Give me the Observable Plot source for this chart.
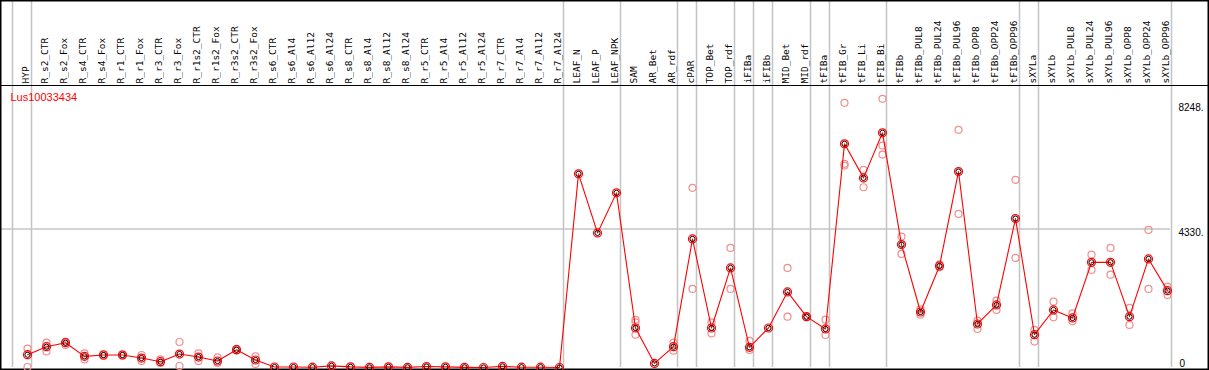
<!DOCTYPE html>
<html><head><meta charset="utf-8">
<script src="https://cdn.jsdelivr.net/npm/d3@7"></script>
<script src="https://cdn.jsdelivr.net/npm/@observablehq/plot@0.6"></script>
<style>body{margin:0;background:#fff} svg{display:block}</style>
</head><body><div id="chart"></div>
<script>
const categories = ["HYP","R_s2_CTR","R_s2_Fox","R_s4_CTR","R_s4_Fox","R_r1_CTR","R_r1_Fox","R_r3_CTR","R_r3_Fox","R_r1s2_CTR","R_r1s2_Fox","R_r3s2_CTR","R_r3s2_Fox","R_s6_CTR","R_s6_Al4","R_s6_Al12","R_s6_Al24","R_s8_CTR","R_s8_Al4","R_s8_Al12","R_s8_Al24","R_r5_CTR","R_r5_Al4","R_r5_Al12","R_r5_Al24","R_r7_CTR","R_r7_Al4","R_r7_Al12","R_r7_Al24","LEAF_N","LEAF_P","LEAF_NPK","SAM","AR_Bet","AR_rdf","cPAR","TOP_Bet","TOP_rdf","iFIBa","iFIBb","MID_Bet","MID_rdf","tFIBa","tFIB_Gr","tFIB_Li","tFIB_Bi","tFIBb","tFIBb_PUL8","tFIBb_PUL24","tFIBb_PUL96","tFIBb_OPP8","tFIBb_OPP24","tFIBb_OPP96","sXYLa","sXYLb","sXYLb_PUL8","sXYLb_PUL24","sXYLb_PUL96","sXYLb_OPP8","sXYLb_OPP24","sXYLb_OPP96"];
const means = [400,650,775,348,390,390,296,181,421,327,203,556,234,15,15,10,50,20,5,20,5,30,20,5,0,35,10,10,0,6051,4206,5457,1235,128,650,4018,1235,3111,630,1235,2361,1589,1204,6989,5925,7333,3840,1735,3174,6123,1360,1954,4653,1026,1798,1548,3286,3286,1589,3393,2402];
const rep1 = [590,775,800,441,420,410,390,253,797,441,315,580,350,null,null,null,null,null,null,null,null,null,null,null,null,null,null,null,null,null,null,null,1490,null,775,5613,1410,3737,830,null,3111,1600,1495,8271,6176,8396,4090,1817,3220,7426,1463,2089,5863,1173,2058,1692,3527,3737,1861,4300,2527];
const rep2 = [15,503,700,253,360,370,200,140,47,200,140,530,110,null,null,null,null,null,null,null,null,null,null,null,null,null,null,null,null,null,null,null,1410,null,525,2455,1066,2455,547,null,1589,1570,1016,6363,5632,6936,3549,1651,3130,4800,1204,1798,3424,816,1567,1442,3049,2902,1329,2455,2267];
const rep3 = [null,null,null,null,null,null,null,null,null,null,null,null,null,null,null,null,null,null,null,null,null,null,null,null,null,null,null,null,null,null,null,null,1026,null,null,null,null,null,null,null,null,null,null,6310,null,6654,null,null,null,null,null,null,null,null,null,null,null,null,null,null,null];
const groupEnds = [-1,0,28,31,34,35,37,38,39,41,42,45,52,53,60];
const gridValues = [4330];
const upperTickValues = [8248,4330];
const upperTickLabels = ["8248.","4330."];
const zeroTickLabel = "0";
const geneName = "Lus10033434";
const yMax = 8812;

const meanData = categories.map((c,i)=>({i, c, v: means[i]}));
const repData = [];
[rep1,rep2,rep3].forEach(r => r.forEach((v,i) => { if (v != null) repData.push({i, v}); }));
const tickData = upperTickValues.map((v,k)=>({v, label: upperTickLabels[k]}));

const chart = Plot.plot({
  width: 1209, height: 370,
  marginTop: 85, marginBottom: 3, marginLeft: 27, marginRight: 42,
  x: {type: "linear", domain: [0, 60], axis: null},
  y: {domain: [0, yMax], axis: null},
  style: {background: "white", fontFamily: "Liberation Sans, sans-serif"},
  marks: [
    Plot.ruleX(groupEnds, {x: d => d, dx: 4, insetTop: -85, stroke: "#c4c4c4", strokeWidth: 1.5}),
    Plot.ruleY(gridValues, {y: d => d, insetLeft: -26, insetRight: -3, stroke: "#c4c4c4", strokeWidth: 1.5}),
    Plot.ruleY([yMax], {y: d => d, insetLeft: -27, insetRight: -42, stroke: "black", strokeWidth: 1.2}),
    Plot.frame({stroke: "black", strokeWidth: 2, insetTop: -85, insetLeft: -27, insetRight: -41, insetBottom: -2}),
    Plot.text(meanData, {x: "i", text: "c", frameAnchor: "top", rotate: -90, textAnchor: "start", lineAnchor: "middle", dy: -2, dx: -1.5, fontFamily: "DejaVu Sans Mono", fontSize: 9.5, fill: "black"}),
    Plot.text([geneName], {frameAnchor: "top-left", dx: -17, dy: 12, textAnchor: "start", lineAnchor: "middle", fill: "red", fontSize: 11}),
    Plot.text(tickData, {y: "v", text: "label", frameAnchor: "right", dx: 11, dy: 4, textAnchor: "start", lineAnchor: "middle", fontSize: 10, fill: "black"}),
    Plot.text([zeroTickLabel], {frameAnchor: "bottom-right", dx: 12, dy: -4, textAnchor: "start", lineAnchor: "middle", fontSize: 10, fill: "black"}),
    Plot.dot(repData, {x: "i", y: "v", r: 3.5, stroke: "#ef8f8f", strokeWidth: 1.2}),
    Plot.line(meanData, {x: "i", y: "v", stroke: "red", strokeWidth: 1.1}),
    Plot.dot(meanData, {x: "i", y: "v", r: 2.6, stroke: "black", strokeWidth: 1}),
    Plot.dot(meanData, {x: "i", y: "v", r: 4, stroke: "red", strokeWidth: 1.2})
  ]
});
document.getElementById("chart").append(chart);
</script>
</body></html>
